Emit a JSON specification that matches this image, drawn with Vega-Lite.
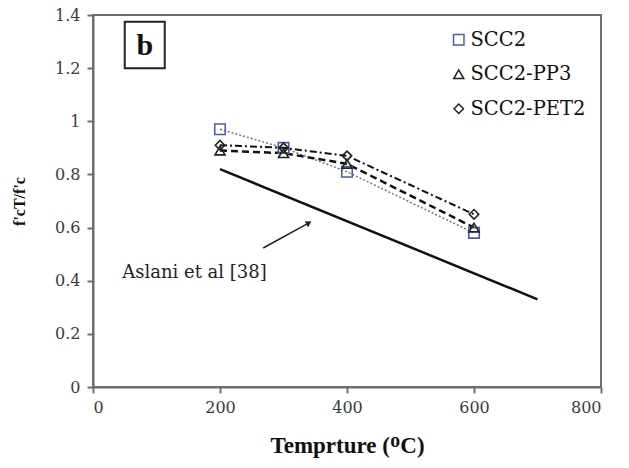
{
  "$schema": "https://vega.github.io/schema/vega-lite/v6.json",
  "width": 508,
  "height": 372,
  "autosize": {"type": "none"},
  "padding": {"left": 93, "top": 15, "right": 28, "bottom": 81},
  "background": "white",
  "config": {
    "view": {"stroke": "#6e6e6e", "strokeWidth": 2},
    "font": "DejaVu Serif",
    "axis": {
      "domainColor": "#6e6e6e",
      "domainWidth": 2,
      "tickColor": "#6e6e6e",
      "tickWidth": 2,
      "tickSize": 6,
      "grid": false,
      "labelColor": "#3a3a3a",
      "titleFontWeight": "bold",
      "titleColor": "#111111"
    }
  },
  "datasets": {
    "tests": [
      {"series": "SCC2", "temp": 200, "ratio": 0.97},
      {"series": "SCC2", "temp": 300, "ratio": 0.90},
      {"series": "SCC2", "temp": 400, "ratio": 0.81},
      {"series": "SCC2", "temp": 600, "ratio": 0.58},
      {"series": "SCC2-PP3", "temp": 200, "ratio": 0.89},
      {"series": "SCC2-PP3", "temp": 300, "ratio": 0.88},
      {"series": "SCC2-PP3", "temp": 400, "ratio": 0.84},
      {"series": "SCC2-PP3", "temp": 600, "ratio": 0.60},
      {"series": "SCC2-PET2", "temp": 200, "ratio": 0.91},
      {"series": "SCC2-PET2", "temp": 300, "ratio": 0.90},
      {"series": "SCC2-PET2", "temp": 400, "ratio": 0.87},
      {"series": "SCC2-PET2", "temp": 600, "ratio": 0.65}
    ],
    "aslani": [
      {"temp": 200, "ratio": 0.82},
      {"temp": 700, "ratio": 0.33}
    ]
  },
  "layer": [
    {
      "data": {"values": [{"x1": 50, "x2": 113, "y1": 1.20, "y2": 1.375, "label": "b"}]},
      "mark": {"type": "rect", "fill": "white", "stroke": "#222222", "strokeWidth": 2},
      "encoding": {
        "x": {"field": "x1", "type": "quantitative", "scale": {"domain": [0, 800]},
              "axis": {"values": [0, 200, 400, 600, 800], "format": "d", "title": "Temprture (ᴼC)",
                       "labelFont": "DejaVu Serif", "labelFontSize": 16,
                       "titleFont": "Liberation Serif",
                       "titleFontSize": 23, "titlePadding": 19, "labelPadding": 6}},
        "x2": {"field": "x2"},
        "y": {"field": "y1", "type": "quantitative", "scale": {"domain": [0, 1.4]},
              "axis": {"values": [0, 0.2, 0.4, 0.6, 0.8, 1, 1.2, 1.4], "format": "~g", "title": "f'cT/f'c",
                       "labelFont": "DejaVu Serif", "labelFontSize": 16,
                       "titleFont": "Liberation Serif",
                       "titleFontSize": 16, "titlePadding": 27, "labelPadding": 7}},
        "y2": {"field": "y2"}
      }
    },
    {
      "data": {"values": [{"x": 81.5, "y": 1.285, "label": "b"}]},
      "mark": {"type": "text", "font": "Liberation Serif", "fontWeight": "bold", "fontSize": 30, "color": "#111111", "baseline": "middle", "align": "center"},
      "encoding": {
        "x": {"field": "x", "type": "quantitative"},
        "y": {"field": "y", "type": "quantitative"},
        "text": {"field": "label"}
      }
    },
    {
      "data": {"name": "aslani"},
      "mark": {"type": "line", "color": "#111111", "strokeWidth": 2.5},
      "encoding": {
        "x": {"field": "temp", "type": "quantitative"},
        "y": {"field": "ratio", "type": "quantitative"}
      }
    },
    {
      "data": {"name": "tests"},
      "transform": [{"filter": "datum.series === 'SCC2'"}],
      "mark": {"type": "line", "color": "#777777", "strokeWidth": 1.5, "strokeDash": [2, 2]},
      "encoding": {
        "x": {"field": "temp", "type": "quantitative"},
        "y": {"field": "ratio", "type": "quantitative"}
      }
    },
    {
      "data": {"name": "tests"},
      "transform": [{"filter": "datum.series === 'SCC2-PP3'"}],
      "mark": {"type": "line", "color": "#111111", "strokeWidth": 2.5, "strokeDash": [7, 4]},
      "encoding": {
        "x": {"field": "temp", "type": "quantitative"},
        "y": {"field": "ratio", "type": "quantitative"}
      }
    },
    {
      "data": {"name": "tests"},
      "transform": [{"filter": "datum.series === 'SCC2-PET2'"}],
      "mark": {"type": "line", "color": "#111111", "strokeWidth": 2, "strokeDash": [7, 3, 2, 3]},
      "encoding": {
        "x": {"field": "temp", "type": "quantitative"},
        "y": {"field": "ratio", "type": "quantitative"}
      }
    },
    {
      "data": {"name": "tests"},
      "mark": {"type": "point", "filled": false, "strokeWidth": 1.6, "opacity": 1},
      "encoding": {
        "x": {"field": "temp", "type": "quantitative"},
        "y": {"field": "ratio", "type": "quantitative"},
        "shape": {
          "field": "series", "type": "nominal",
          "scale": {"domain": ["SCC2", "SCC2-PP3", "SCC2-PET2"], "range": ["square", "triangle-up", "diamond"]},
          "legend": {
            "title": null, "orient": "none", "legendX": 356, "legendY": 15,
            "labelFont": "DejaVu Serif", "labelFontSize": 19.5, "labelColor": "#111111",
            "rowPadding": 13.5, "symbolSize": 70, "symbolStrokeWidth": 1.5, "labelOffset": 2
          }
        },
        "color": {
          "field": "series", "type": "nominal",
          "scale": {"domain": ["SCC2", "SCC2-PP3", "SCC2-PET2"], "range": ["#4a5ea8", "#222222", "#222222"]}
        },
        "size": {
          "field": "series", "type": "nominal",
          "scale": {"domain": ["SCC2", "SCC2-PP3", "SCC2-PET2"], "range": [110, 90, 80]}
        }
      }
    },
    {
      "data": {"values": [{"x": 268, "y": 0.523, "x2": 338, "y2": 0.615}]},
      "mark": {"type": "rule", "color": "#222222", "strokeWidth": 1.5},
      "encoding": {
        "x": {"field": "x", "type": "quantitative"},
        "y": {"field": "y", "type": "quantitative"},
        "x2": {"field": "x2"},
        "y2": {"field": "y2"}
      }
    },
    {
      "data": {"values": [{"x": 340, "y": 0.618}]},
      "mark": {"type": "point", "shape": "triangle-up", "filled": true, "color": "#222222", "size": 45, "angle": 61, "opacity": 1},
      "encoding": {
        "x": {"field": "x", "type": "quantitative"},
        "y": {"field": "y", "type": "quantitative"}
      }
    },
    {
      "data": {"values": [{"x": 46, "y": 0.43, "label": "Aslani et al [38]"}]},
      "mark": {"type": "text", "font": "DejaVu Serif", "fontSize": 18, "color": "#222222", "align": "left", "baseline": "middle"},
      "encoding": {
        "x": {"field": "x", "type": "quantitative"},
        "y": {"field": "y", "type": "quantitative"},
        "text": {"field": "label"}
      }
    }
  ]
}
